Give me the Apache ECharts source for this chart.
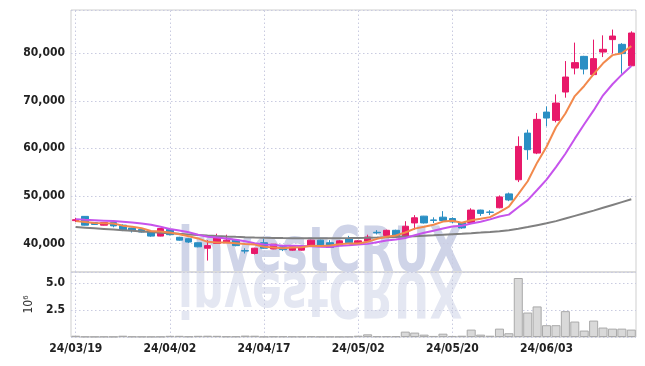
<!DOCTYPE html>
<html><head><meta charset="utf-8">
<script src="https://cdn.jsdelivr.net/npm/echarts@6/dist/echarts.min.js"></script>
<style>html,body{margin:0;padding:0;background:#fff}#c{width:645px;height:366px}</style>
</head><body><div id="c"></div>
<script>
const dates = ['24/03/19','24/03/20','24/03/21','24/03/22','24/03/25','24/03/26','24/03/27','24/03/28','24/03/29','24/04/01',
'24/04/02','24/04/03','24/04/04','24/04/05','24/04/08','24/04/09','24/04/11','24/04/12','24/04/15','24/04/16',
'24/04/17','24/04/18','24/04/19','24/04/22','24/04/23','24/04/24','24/04/25','24/04/26','24/04/29','24/04/30',
'24/05/02','24/05/03','24/05/07','24/05/08','24/05/09','24/05/10','24/05/13','24/05/14','24/05/16','24/05/17',
'24/05/20','24/05/21','24/05/22','24/05/23','24/05/24','24/05/27','24/05/28','24/05/29','24/05/30','24/05/31',
'24/06/03','24/06/04','24/06/05','24/06/07','24/06/10','24/06/11','24/06/12','24/06/13','24/06/14','24/06/17'];
const tickLabels = ['24/03/19','24/04/02','24/04/17','24/05/02','24/05/20','24/06/03'];
const opens = [44800,45700,44400,43850,44400,43850,43250,42950,42550,41550,
42950,41300,41000,40150,39000,40000,40150,40700,38500,37900,
40150,38850,39300,38600,38600,39550,40700,40150,39550,41000,
39950,40500,42350,41700,42770,41550,44320,45750,44950,45530,
45250,44400,44400,47020,46600,47510,50430,53400,63210,59010,
67630,65890,71850,76890,79350,75510,80260,82870,81880,77370];
const closes = [45000,43850,44000,44400,43700,42800,42700,42400,41550,43150,
41850,40700,40300,39300,39550,41150,40700,39550,38400,39000,
39000,39850,38700,39300,39150,40700,39550,39150,40550,40150,
40550,41350,42250,42770,41550,43620,45400,44320,44850,44830,
44530,43270,47020,46320,46550,49790,49150,60410,59720,66100,
66380,69530,75000,78030,76680,78870,80830,83620,79930,84260];
const lows = [44500,43800,43900,43800,43400,42600,42300,42300,41400,41500,
41700,40600,40100,39200,36400,39900,40100,39400,37900,37700,
38900,38800,38400,38500,38500,39500,39500,39100,39500,40100,
39900,40400,41900,41600,41400,41400,42900,44200,44300,44700,
44300,43100,44300,45800,46000,47400,48900,52910,57600,58790,
64630,65470,70660,75560,75560,75410,79200,79930,75710,77280];
const highs = [45400,45750,44500,44500,44500,44000,43300,43000,42600,43200,
43000,41400,41100,40200,40700,42050,41850,40800,39000,39100,
41000,39900,39600,39400,39200,40800,40800,40700,40700,41600,
40700,41850,42800,42900,42900,44680,45960,45800,45500,46800,
45500,44500,47400,47100,47000,50100,50700,62520,63930,67420,
68830,71350,78360,82240,79460,82870,83770,84980,82130,84620];
const volumes = [120000,40000,30000,40000,30000,120000,50000,40000,30000,40000,
110000,110000,60000,110000,120000,110000,60000,60000,130000,120000,
40000,60000,60000,50000,50000,60000,40000,40000,30000,40000,
120000,250000,70000,70000,70000,500000,410000,220000,100000,310000,
100000,120000,690000,220000,120000,780000,350000,5500000,2280000,2850000,
1100000,1100000,2410000,1440000,600000,1530000,880000,780000,780000,690000];
const ma5 = [44700,44500,44300,44250,44190,43750,43520,43200,42630,42520,
42330,41930,41510,41060,40340,40200,40200,40050,39870,39760,
39330,39160,38990,39170,39200,39540,39480,39570,39820,40020,
39990,40350,40970,41410,41690,42310,43120,43530,43950,44600,
44790,44360,44900,45190,45540,46590,47770,50380,53080,57000,
60340,64450,67340,71000,73120,75620,77880,79610,79990,81500];
const ma10 = [45120,45000,44900,44800,44700,44550,44400,44200,43950,43500,
43040,42725,42355,41845,41430,41265,41065,40780,40465,40050,
39765,39680,39520,39520,39480,39435,39320,39280,39495,39610,
39765,39915,40270,40617,40857,41149,41734,42251,42681,43149,
43547,43739,44216,44571,45071,45688,46063,47620,49110,51240,
53430,56060,58870,62040,65060,67980,71160,73480,75500,77320];
const ma60 = [43450,43320,43190,43060,42930,42800,42670,42540,42410,42280,
42150,42020,41900,41780,41660,41560,41470,41390,41320,41260,
41210,41170,41140,41120,41100,41090,41090,41100,41110,41130,
41160,41200,41250,41310,41380,41460,41540,41630,41720,41820,
41930,42040,42160,42290,42430,42580,42800,43100,43450,43850,
44250,44700,45250,45800,46350,46900,47500,48100,48700,49300];

const UP = '#e8196a', DOWN = '#2a8fc4';
const FONT = '"DejaVu Sans Condensed", "DejaVu Sans", sans-serif';
const gridLineStyle = {color: '#c9cbe0', type: [1.5, 2.5], width: 1};
const labelStyle = {color: '#222', fontFamily: FONT, fontSize: 12, fontWeight: 'bold'};
const ohlc = opens.map((o, i) => [o, closes[i], lows[i], highs[i]]);
const vlines = tickLabels.map(t => ({xAxis: t}));

const chart = echarts.init(document.getElementById('c'), null, {renderer: 'canvas'});
chart.setOption({
  animation: false,
  backgroundColor: '#fff',
  graphic: [
    {type: 'text', x: 178, y: 286, z: 0, scaleX: 0.78,
     style: {text: 'investCRUX', font: 'bold 62px ' + FONT, fill: '#cfd4e8', textVerticalAlign: 'bottom'}},
    {type: 'text', x: 178, y: 258, z: 0, scaleX: 0.78, scaleY: -1,
     style: {text: 'investCRUX', font: 'bold 62px ' + FONT, fill: '#e4e7f2', textVerticalAlign: 'bottom'}}
  ],
  grid: [
    {left: 71, right: 9, top: 10, height: 262, show: true, borderColor: '#cfcfcf', borderWidth: 1},
    {left: 71, right: 9, top: 272, height: 65, show: true, borderColor: '#cfcfcf', borderWidth: 1}
  ],
  xAxis: [
    {type: 'category', data: dates, gridIndex: 0, boundaryGap: true,
     axisLine: {show: false}, axisTick: {show: false}, axisLabel: {show: false}, splitLine: {show: false}},
    {type: 'category', data: dates, gridIndex: 1, boundaryGap: true,
     axisLine: {show: false}, axisTick: {show: false}, splitLine: {show: false},
     axisLabel: Object.assign({interval: (i, v) => tickLabels.includes(v), margin: 6}, labelStyle)}
  ],
  yAxis: [
    {type: 'value', gridIndex: 0, min: 34000, max: 89100, splitNumber: 5, scale: true,
     axisLine: {show: false}, axisTick: {show: false},
     axisLabel: Object.assign({margin: 6,
       formatter: v => (v % 10000 === 0 ? v.toLocaleString('en-US') : '')}, labelStyle),
     splitLine: {show: true, lineStyle: gridLineStyle}},
    {type: 'value', gridIndex: 1, min: 0, max: 6060000, interval: 2500000,
     name: '10⁶', nameLocation: 'middle', nameRotate: 90, nameGap: 30,
     nameTextStyle: {color: '#333', fontFamily: FONT, fontSize: 12},
     axisLine: {show: false}, axisTick: {show: false},
     axisLabel: Object.assign({margin: 6,
       formatter: v => (v > 0 && v < 6000000 ? (v / 1e6).toFixed(1) : '')}, labelStyle),
     splitLine: {show: true, lineStyle: gridLineStyle}}
  ],
  series: [
    {type: 'candlestick', xAxisIndex: 0, yAxisIndex: 0, data: ohlc, barWidth: 7, z: 3,
     itemStyle: {color: UP, color0: DOWN, borderColor: UP, borderColor0: DOWN, borderWidth: 1},
     markLine: {silent: true, symbol: 'none', label: {show: false}, lineStyle: gridLineStyle, data: vlines, z: 1}},
    {type: 'line', xAxisIndex: 0, yAxisIndex: 0, data: ma60, symbol: 'none', z: 4,
     lineStyle: {color: '#808080', width: 2}},
    {type: 'line', xAxisIndex: 0, yAxisIndex: 0, data: ma10, symbol: 'none', z: 4,
     lineStyle: {color: '#c653ec', width: 2}},
    {type: 'line', xAxisIndex: 0, yAxisIndex: 0, data: ma5, symbol: 'none', z: 4,
     lineStyle: {color: '#f2894c', width: 2}},
    {type: 'bar', xAxisIndex: 1, yAxisIndex: 1, data: volumes, barCategoryGap: '4%', z: 3,
     itemStyle: {color: '#d9d9d9', borderColor: '#a9a9a9', borderWidth: 1},
     markLine: {silent: true, symbol: 'none', label: {show: false}, lineStyle: gridLineStyle, data: vlines, z: 1}}
  ]
});
</script></body></html>
